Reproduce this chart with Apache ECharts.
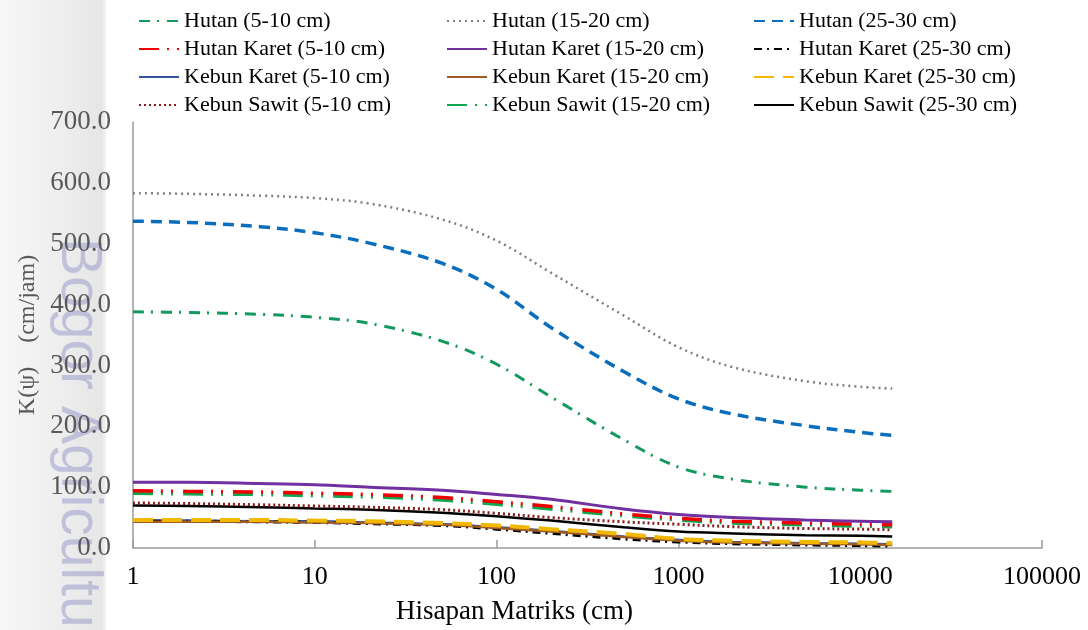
<!DOCTYPE html>
<html>
<head>
<meta charset="utf-8">
<script src="https://cdn.jsdelivr.net/npm/echarts@6/dist/echarts.min.js"></script>
<style>
html,body{margin:0;padding:0;background:#fff;}
#chart{width:1088px;height:630px;}
</style>
</head>
<body>
<div id="chart"></div>
<script>
// Matric suction (cm), x positions of the readings
var suction = [1, 2, 5, 10, 20, 50, 100, 200, 500, 1000, 2000, 5000, 10000, 15000];
var xTickLabels = ['1', '10', '100', '1000', '10000', '100000'];
var yTickLabels = ['0.0','100.0','200.0','300.0','400.0','500.0','600.0','700.0'];

var seriesNames = [
  'Hutan (5-10 cm)', 'Hutan (15-20 cm)', 'Hutan (25-30 cm)',
  'Hutan Karet (5-10 cm)', 'Hutan Karet (15-20 cm)', 'Hutan Karet (25-30 cm)',
  'Kebun Karet (5-10 cm)', 'Kebun Karet (15-20 cm)', 'Kebun Karet (25-30 cm)',
  'Kebun Sawit (5-10 cm)', 'Kebun Sawit (15-20 cm)', 'Kebun Sawit (25-30 cm)'
];

// K(psi) values (cm/jam)
var hutan_5_10   = [388, 387, 384, 379, 369, 340, 302, 248, 178, 133, 113, 100, 95, 93];
var hutan_15_20  = [583, 582, 579, 575, 566, 540, 505, 452, 382, 330, 297, 274, 265, 262];
var hutan_25_30  = [537, 535, 528, 518, 501, 468, 425, 362, 290, 245, 220, 201, 190, 185];
var hKaret_5_10  = [94, 93, 92, 90, 88, 83, 76, 68, 56, 49, 44, 41, 39, 38];
var hKaret_15_20 = [108, 108, 106, 104, 100, 95, 88, 80, 64, 55, 50, 46, 44, 43];
var hKaret_25_30 = [44, 44, 43, 42, 40, 37, 31, 24, 15, 10, 7, 5, 4, 3];
var kKaret_5_10  = [45, 45, 44, 44, 42, 39, 34, 28, 19, 13, 10, 8, 7, 6];
var kKaret_15_20 = [43, 43, 43, 42, 41, 38, 33, 27, 18, 12, 9, 7, 6, 5];
var kKaret_25_30 = [46, 46, 46, 45, 44, 41, 37, 31, 23, 15, 12, 10, 9, 8];
var kSawit_5_10  = [74, 73, 71, 69, 67, 63, 57, 50, 43, 39, 35, 32, 31, 30];
var kSawit_15_20 = [90, 89, 88, 86, 84, 79, 72, 64, 53, 46, 41, 38, 36, 35];
var kSawit_25_30 = [70, 69, 67, 65, 63, 58, 52, 45, 34, 27, 24, 21, 20, 19];

var values = [hutan_5_10, hutan_15_20, hutan_25_30,
              hKaret_5_10, hKaret_15_20, hKaret_25_30,
              kKaret_5_10, kKaret_15_20, kKaret_25_30,
              kSawit_5_10, kSawit_15_20, kSawit_25_30];

var styles = [
  {color:'#13985E', width:3, type:[11,7,2,8]},
  {color:'#7F7F7F', width:2.5, type:[2,4]},
  {color:'#0A6EBD', width:3.5, type:[11,7]},
  {color:'#F00000', width:3.5, type:[20,8,2,8,2,10]},
  {color:'#7030A0', width:3, type:'solid'},
  {color:'#000000', width:3, type:[8,5,2,5]},
  {color:'#2F5597', width:2.5, type:'solid'},
  {color:'#9C5B25', width:2.5, type:'solid'},
  {color:'#F2B800', width:4, type:[20,9]},
  {color:'#8B1A1A', width:3, type:[2,3]},
  {color:'#12A650', width:3.5, type:[20,8,2,8,2,10]},
  {color:'#000000', width:2.5, type:'solid'}
];

// draw order: bottom first
var drawOrder = [0,1,2,6,5,7,8,11,9,10,3,4];

var series = drawOrder.map(function(i){
  return {
    name: seriesNames[i],
    type: 'line',
    smooth: 0.35,
    symbol: 'none',
    color: styles[i].color,
    lineStyle: {color: styles[i].color, width: styles[i].width, type: styles[i].type},
    data: suction.map(function(x, k){ return [x, values[i][k]]; })
  };
});

var serif = 'Liberation Serif';
function legendCol(left, names){
  return {
    orient: 'vertical', left: left, top: 5,
    itemWidth: 40, itemHeight: 12, itemGap: 6,
    data: names,
    itemStyle: {opacity: 0, borderWidth: 0},
    textStyle: {fontFamily: serif, fontSize: 22, color: '#000'}
  };
}

var chart = echarts.init(document.getElementById('chart'), null, {renderer:'canvas'});
chart.setOption({
  animation: false,
  backgroundColor: '#fff',
  graphic: [
    {type:'rect', zlevel:-1, left:0, top:0, shape:{width:106, height:630},
     style:{fill: new echarts.graphic.LinearGradient(0,0,1,0,[
       {offset:0, color:'#f7f7f7'},{offset:0.5, color:'#efefef'},{offset:0.96, color:'#e6e6e6'},{offset:1, color:'#f4f4f4'}])}},
    {type:'text', zlevel:-1, x:106, y:238, rotation:-Math.PI/2,
     style:{text:'Bogor Agricultural', fontFamily:'Liberation Sans', fontSize:57,
            fill:'rgba(140,140,200,0.45)', textVerticalAlign:'top'}}
  ],
  legend: [
    legendCol(133, [seriesNames[0], seriesNames[3], seriesNames[6], seriesNames[9]]),
    legendCol(441, [seriesNames[1], seriesNames[4], seriesNames[7], seriesNames[10]]),
    legendCol(748, [seriesNames[2], seriesNames[5], seriesNames[8], seriesNames[11]])
  ],
  grid: {left:133, right:46, top:122, bottom:81, containLabel:false},
  xAxis: {
    type: 'log', logBase: 10, min: 1, max: 100000,
    name: 'Hisapan Matriks (cm)', nameLocation: 'middle', nameGap: 50,
    nameTextStyle: {fontFamily: serif, fontSize: 27, color:'#000', padding:[0,146,0,0]},
    axisLine: {lineStyle:{color:'#9a9a9a', width:1.5}},
    axisTick: {inside:true, length:8, lineStyle:{color:'#9a9a9a', width:1.5}},
    minorTick: {show:false},
    splitLine: {show:false},
    axisLabel: {fontFamily: serif, fontSize: 26, color:'#000', margin: 16,
      formatter: function(v){ var e = Math.round(Math.log10(v)); return xTickLabels[e] !== undefined ? xTickLabels[e] : ''; }}
  },
  yAxis: {
    type: 'value', min: 0, max: 700, interval: 100,
    name: 'K(\u03c8)    (cm/jam)', nameLocation: 'middle', nameGap: 92, nameRotate: 90,
    nameTextStyle: {fontFamily: serif, fontSize: 24, color:'#595959'},
    axisLine: {show:true, lineStyle:{color:'#9a9a9a', width:1.5}},
    axisTick: {show:false},
    splitLine: {show:false},
    axisLabel: {fontFamily: serif, fontSize: 27, color:'#595959', margin: 22,
      formatter: function(v){ return yTickLabels[Math.round(v/100)]; }}
  },
  series: series
});
</script>
</body>
</html>
